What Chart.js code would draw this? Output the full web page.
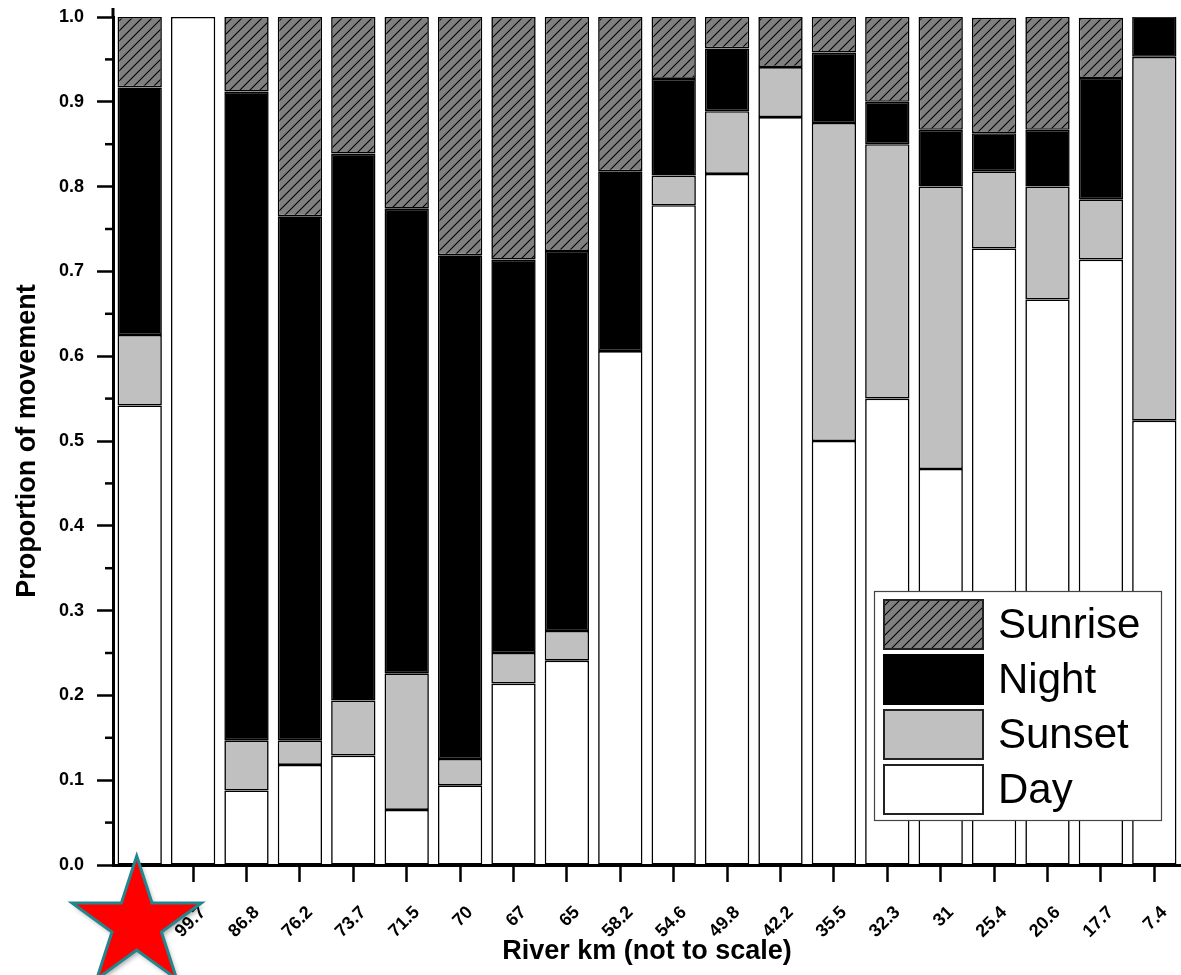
<!DOCTYPE html>
<html>
<head>
<meta charset="utf-8">
<script src="https://cdn.jsdelivr.net/npm/chart.js@4"></script>
<style>
  html, body { margin: 0; padding: 0; background: #fff; }
  #wrap { width: 1181px; height: 975px; position: relative; }
</style>
</head>
<body>
<div id="wrap"><canvas id="c" width="1181" height="975"></canvas></div>
<script>
// ---- data ----
const categories = ['', '99.7', '86.8', '76.2', '73.7', '71.5', '70', '67', '65', '58.2', '54.6', '49.8', '42.2', '35.5', '32.3', '31', '25.4', '20.6', '17.7', '7.4'];
const dayValues     = [0.542, 1.000, 0.088, 0.118, 0.129, 0.065, 0.094, 0.214, 0.241, 0.606, 0.778, 0.815, 0.882, 0.500, 0.550, 0.467, 0.727, 0.667, 0.714, 0.524];
const sunsetValues  = [0.083, 0.000, 0.059, 0.029, 0.065, 0.161, 0.031, 0.036, 0.035, 0.000, 0.035, 0.074, 0.059, 0.375, 0.300, 0.333, 0.091, 0.133, 0.071, 0.429];
const nightValues   = [0.292, 0.000, 0.765, 0.618, 0.645, 0.548, 0.594, 0.464, 0.448, 0.212, 0.114, 0.074, 0.000, 0.083, 0.050, 0.067, 0.045, 0.067, 0.143, 0.048];
const sunriseValues = [0.083, 0.000, 0.088, 0.235, 0.161, 0.226, 0.281, 0.286, 0.276, 0.182, 0.073, 0.037, 0.059, 0.042, 0.100, 0.133, 0.136, 0.133, 0.071, 0.000];
const yTickLabels = ['0.0','0.1','0.2','0.3','0.4','0.5','0.6','0.7','0.8','0.9','1.0'];
const seriesNames = ['Day', 'Sunset', 'Night', 'Sunrise'];

// ---- hatch pattern for Sunrise ----
function makeHatch() {
  const s = 10;
  const pc = document.createElement('canvas');
  pc.width = s; pc.height = s;
  const g = pc.getContext('2d');
  g.fillStyle = '#808080';
  g.fillRect(0, 0, s, s);
  g.strokeStyle = '#000';
  g.lineWidth = 1.1;
  g.beginPath();
  g.moveTo(0, s); g.lineTo(s, 0);
  g.moveTo(-2, 2); g.lineTo(2, -2);
  g.moveTo(s - 2, s + 2); g.lineTo(s + 2, s - 2);
  g.stroke();
  return g.createPattern(pc, 'repeat');
}
const ctx = document.getElementById('c').getContext('2d');
const hatch = makeHatch();

const fills = { Day: '#ffffff', Sunset: '#c0c0c0', Night: '#000000', Sunrise: hatch };
const seriesData = { Day: dayValues, Sunset: sunsetValues, Night: nightValues, Sunrise: sunriseValues };

const datasets = seriesNames.map(n => ({
  label: n,
  data: seriesData[n],
  backgroundColor: fills[n],
  borderColor: '#000',
  borderWidth: (c) => (c.raw ? 1.6 : 0),
  borderSkipped: false,
  barPercentage: 0.83,
  categoryPercentage: 1.0
}));

// ---- plugins ----
const extras = {
  id: 'extras',
  afterDraw(chart) {
    const c = chart.ctx;
    const y = chart.scales.y, x = chart.scales.x;
    const left = chart.chartArea.left, top = chart.chartArea.top;
    c.save();
    // minor ticks
    c.strokeStyle = '#000';
    c.lineWidth = 2.5;
    for (let i = 0; i < 10; i++) {
      const py = y.getPixelForValue(i * 0.1 + 0.05);
      c.beginPath(); c.moveTo(left - 8, py); c.lineTo(left, py); c.stroke();
    }
    // axis extension above 1.0
    c.lineWidth = 3;
    c.beginPath(); c.moveTo(left, top - 9); c.lineTo(left, top); c.stroke();

    // legend box
    const lx = 874, ly = 591, lw = 287, lh = 229;
    c.fillStyle = '#fff';
    c.fillRect(lx, ly, lw, lh);
    c.strokeStyle = '#444';
    c.lineWidth = 1.2;
    c.strokeRect(lx + 0.5, ly + 0.5, lw, lh);
    const order = ['Sunrise', 'Night', 'Sunset', 'Day'];
    order.forEach((n, i) => {
      const sy = 600 + i * 55;
      c.fillStyle = fills[n];
      c.fillRect(884, sy, 99, 49);
      c.strokeStyle = n === 'Night' ? '#000' : '#222';
      c.lineWidth = 2;
      c.strokeRect(884, sy, 99, 49);
      c.fillStyle = '#000';
      c.font = '42px "Liberation Sans", Arial, sans-serif';
      c.textBaseline = 'middle';
      c.textAlign = 'left';
      c.fillText(n, 998, sy + 26);
    });

    // star marker for first site
    const cx = x.getPixelForValue(0) - 3, cy = 924, R = 68, r = 26;
    c.beginPath();
    for (let k = 0; k < 10; k++) {
      const ang = -Math.PI / 2 + k * Math.PI / 5;
      const rad = k % 2 === 0 ? R : r;
      const px = cx + rad * Math.cos(ang), py = cy + rad * Math.sin(ang);
      if (k === 0) c.moveTo(px, py); else c.lineTo(px, py);
    }
    c.closePath();
    c.shadowColor = 'rgba(0,0,0,0.35)';
    c.shadowBlur = 5;
    c.shadowOffsetX = 2;
    c.shadowOffsetY = 3;
    c.fillStyle = '#ff0000';
    c.fill();
    c.shadowColor = 'transparent';
    c.strokeStyle = '#22868f';
    c.lineWidth = 3;
    c.lineJoin = 'miter';
    c.stroke();
    c.restore();
  }
};

new Chart(ctx, {
  type: 'bar',
  data: { labels: categories, datasets },
  options: {
    responsive: false,
    animation: false,
    layout: { padding: { top: 17, right: 0, left: 0, bottom: 0 } },
    plugins: { legend: { display: false }, tooltip: { enabled: false } },
    scales: {
      x: {
        stacked: true,
        grid: { display: true, offset: false, drawOnChartArea: false, drawTicks: true, tickLength: 17, tickWidth: 2.5, tickColor: '#000' },
        border: { display: true, color: '#000', width: 3 },
        ticks: {
          color: '#000',
          font: { family: '"Liberation Sans", Arial, sans-serif', size: 18, weight: 'bold' },
          minRotation: 45, maxRotation: 45, autoSkip: false, padding: 20, labelOffset: 10
        },
        title: {
          display: true, text: 'River km (not to scale)', color: '#000',
          font: { family: '"Liberation Sans", Arial, sans-serif', size: 27, weight: 'bold' },
          padding: { top: 0, bottom: 7 }
        },
        afterFit(s) { s.height = 110; s.paddingLeft = 0; s.paddingRight = 0; }
      },
      y: {
        stacked: true,
        min: 0, max: 1,
        grid: { display: true, drawOnChartArea: false, drawTicks: true, tickLength: 16, tickWidth: 2.5, tickColor: '#000' },
        border: { display: true, color: '#000', width: 3 },
        ticks: {
          stepSize: 0.1, color: '#000', padding: 13,
          font: { family: '"Liberation Sans", Arial, sans-serif', size: 18, weight: 'bold' },
          callback: (v, i) => yTickLabels[i]
        },
        title: {
          display: true, text: 'Proportion of movement', color: '#000',
          font: { family: '"Liberation Sans", Arial, sans-serif', size: 27, weight: 'bold' },
          padding: { top: 11, bottom: 0 }
        },
        afterFit(s) { s.width = 113; s.paddingTop = 0; s.paddingBottom = 0; }
      }
    }
  },
  plugins: [extras]
});
</script>
</body>
</html>
